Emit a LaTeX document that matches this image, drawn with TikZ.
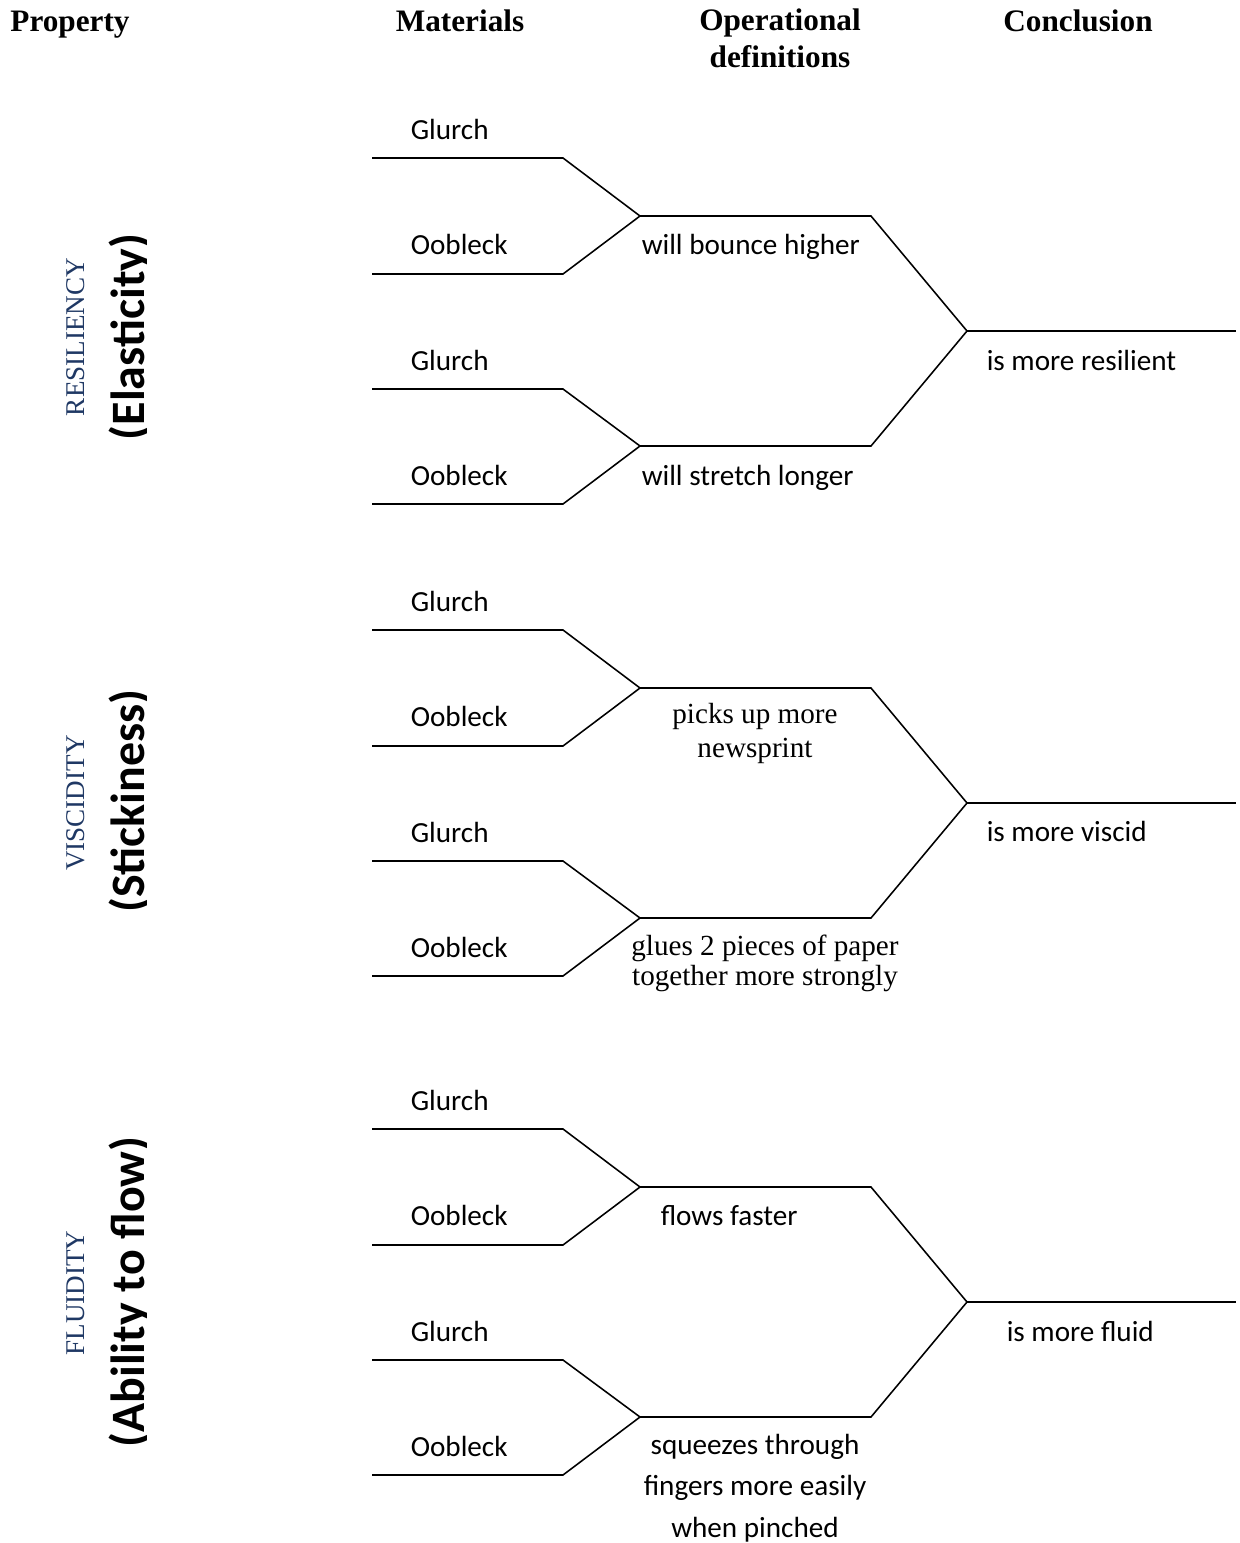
\documentclass[tikz,border=0pt]{standalone}
\usepackage{fontspec}
\setmainfont{Liberation Serif}
\newfontfamily\calibri{Carlito}
\definecolor{propblue}{RGB}{31,56,100}

\begin{document}
\begin{tikzpicture}[x=0.48pt, y=-0.48pt, line width=0.75pt,
    every node/.style={inner sep=0pt},
    head/.style={font=\fontsize{15}{17.3}\selectfont\bfseries, align=center, anchor=base},
    matl/.style={font=\calibri\fontsize{14}{17}\selectfont, anchor=base west},
    optimes/.style={font=\fontsize{14}{16.3}\selectfont, align=center, anchor=base},
    propname/.style={font=\fontsize{13}{15}\selectfont, text=propblue, rotate=90, anchor=base},
    propnote/.style={font=\calibri\fontsize{23}{27}\selectfont\bfseries, rotate=90, anchor=base}]
    \useasboundingbox (0,0) rectangle (1240,1543);

    % column heads (base = last line)
    \node[head] (hprop) at (70,31) {Property};
    \node[head] (hmat) at (460,31) {Materials};
    \node[head] (hop) at (780,67) {Operational\\definitions};
    \node[head] (hconc) at (1078,31) {Conclusion};

    % property labels (the descenders are cut off at the right)
    \node[propname] (res) at (84,337) {RESILIENCY};
    \node[propname] (visc) at (84,803) {VISCIDITY};
    \node[propname] (flu) at (84,1293) {FLUIDITY};
    \begin{scope}
        \clip (0,0) rectangle (146,1543);
        \node[propnote] (ela) at (144,337) {(Elasticity)};
        \node[propnote] (sti) at (144,801) {(Stickiness)};
        \node[propnote] (abl) at (144,1292) {(Ability to flow)};
    \end{scope}

    % the brackets, one block per property
    \foreach \k/\dy in {1/0,2/472,3/971} {
        \coordinate (s1\k) at (372,158+\dy);
        \coordinate (t1\k) at (563,158+\dy);
        \coordinate (s2\k) at (372,274+\dy);
        \coordinate (t2\k) at (563,274+\dy);
        \coordinate (s3\k) at (372,389+\dy);
        \coordinate (t3\k) at (563,389+\dy);
        \coordinate (s4\k) at (372,504+\dy);
        \coordinate (t4\k) at (563,504+\dy);
        \coordinate (j1\k) at (640,216+\dy);
        \coordinate (k1\k) at (871,216+\dy);
        \coordinate (j2\k) at (640,446+\dy);
        \coordinate (k2\k) at (871,446+\dy);
        \coordinate (c\k) at (967,331+\dy);
        \coordinate (e\k) at (1236,331+\dy);
        \draw (s1\k)--(t1\k)--(j1\k)--(t2\k)--(s2\k);
        \draw (s3\k)--(t3\k)--(j2\k)--(t4\k)--(s4\k);
        \draw (j1\k)--(k1\k)--(c\k)--(k2\k)--(j2\k);
        \draw (c\k)--(e\k);
        \node[matl] (glA\k) at (410,139+\dy) {Glurch};
        \node[matl] (ooA\k) at (410,254+\dy) {Oobleck};
        \node[matl] (glB\k) at (410,370+\dy) {Glurch};
        \node[matl] (ooB\k) at (410,485+\dy) {Oobleck};
    }

    % operational definitions
    \node[matl] (opA1) at (641,254) {will bounce higher};
    \node[matl] (opB1) at (641,485) {will stretch longer};
    \node[optimes] (opA2) at (755,757) {picks up more\\newsprint};
    \node[optimes, font=\fontsize{14}{14}\selectfont] (opB2) at (765,985) {glues 2 pieces of paper\\together more strongly};
    \node[matl] (opA3) at (660,1225) {flows faster};
    \node[matl, align=center, anchor=base, font=\calibri\fontsize{14}{19.7}\selectfont] (opB3) at (755,1537)
        {squeezes through\\fingers more easily\\when pinched};

    % conclusions
    \node[matl] (con1) at (986,370) {is more resilient};
    \node[matl] (con2) at (986,841) {is more viscid};
    \node[matl] (con3) at (1006,1341) {is more fluid};
\end{tikzpicture}
\end{document}
